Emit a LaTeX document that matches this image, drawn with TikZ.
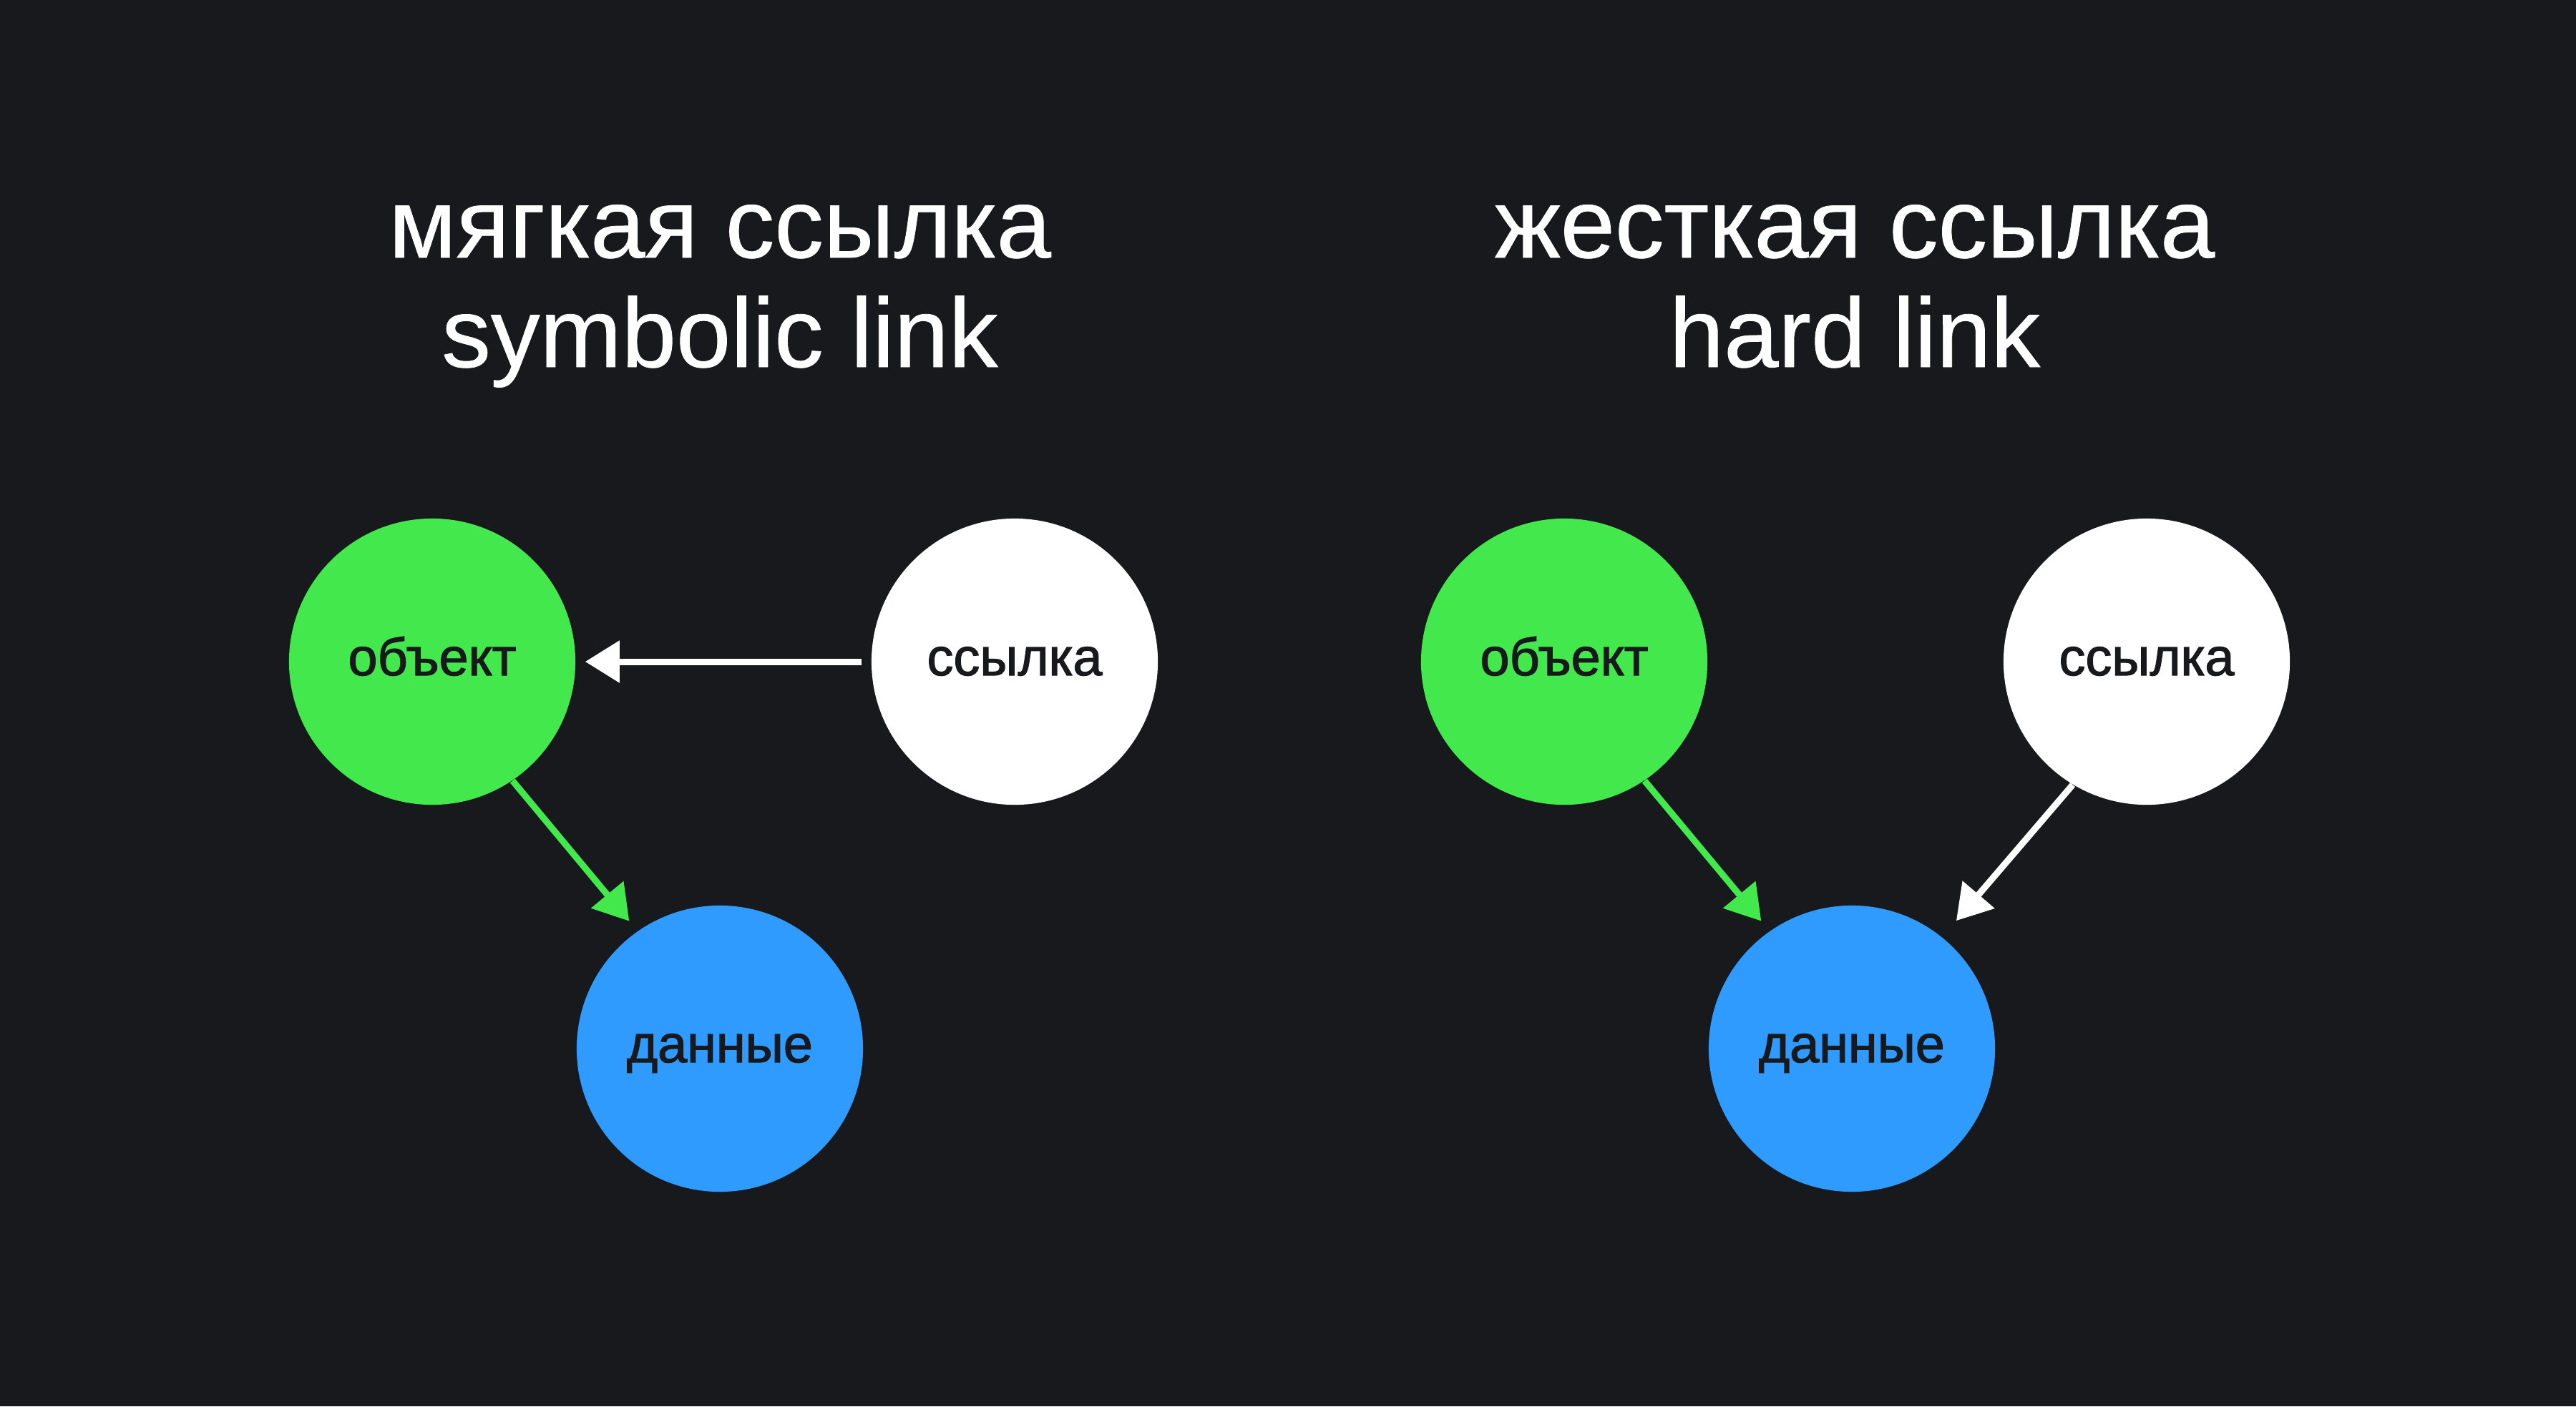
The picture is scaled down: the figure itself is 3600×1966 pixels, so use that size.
\documentclass[tikz,border=0pt]{standalone}
\usepackage{fontspec}
\setmainfont{Liberation Sans}
\newfontfamily\medfont[FakeBold=1.6]{Liberation Sans}
\newfontfamily\titlefont[FakeBold=0.6]{Liberation Sans}
\usetikzlibrary{arrows.meta}
\definecolor{bg}{HTML}{18191D}
\definecolor{objgreen}{HTML}{43E84C}
\definecolor{datblue}{HTML}{2F9BFF}
\definecolor{ink}{HTML}{18191D}
\tikzset{
  circnode/.style={circle, minimum size=4cm, inner sep=0pt, text=ink,
    font=\medfont\fontsize{21pt}{25pt}\selectfont, text height=0.38cm, text depth=0pt},
  titletext/.style={text=white, font=\titlefont\fontsize{39pt}{44pt}\selectfont, anchor=base, inner sep=0pt},
  linkarrow/.style={line width=0.09cm, -{Triangle[length=0.48cm,width=0.57cm]}}
}
\begin{document}
\begin{tikzpicture}[x=0.01cm,y=-0.01cm]
\fill[bg] (0,0) rectangle (3600,1966);
\useasboundingbox (0,0) rectangle (3600,1966);
% titles
\node[titletext] (t1a) at (1006,360) {мягкая ссылка};
\node[titletext] (t1b) at (1006,513) {symbolic link};
\node[titletext] (t2a) at (2592,360) {жесткая ссылка};
\node[titletext] (t2b) at (2592,513) {hard link};
% left panel
\node[circnode, fill=objgreen] (obj1) at (604,925) {объект};
\node[circnode, fill=white] (lnk1) at (1418,925) {ссылка};
\node[circnode, fill=datblue] (dat1) at (1006,1466) {данные};
\draw[linkarrow, white, shorten >=0.13cm, shorten <=0.13cm] (lnk1.west) -- (obj1.east);
\draw[linkarrow, objgreen, shorten >=0.18cm] (obj1.-56) -- (dat1.125);
% right panel
\node[circnode, fill=objgreen] (obj2) at (2186,925) {объект};
\node[circnode, fill=white] (lnk2) at (3000,925) {ссылка};
\node[circnode, fill=datblue] (dat2) at (2588,1466) {данные};
\draw[linkarrow, objgreen, shorten >=0.18cm] (obj2.-56) -- (dat2.125);
\draw[linkarrow, white, shorten >=0.30cm] (lnk2.-121) -- (dat2.51);
\end{tikzpicture}
\end{document}
